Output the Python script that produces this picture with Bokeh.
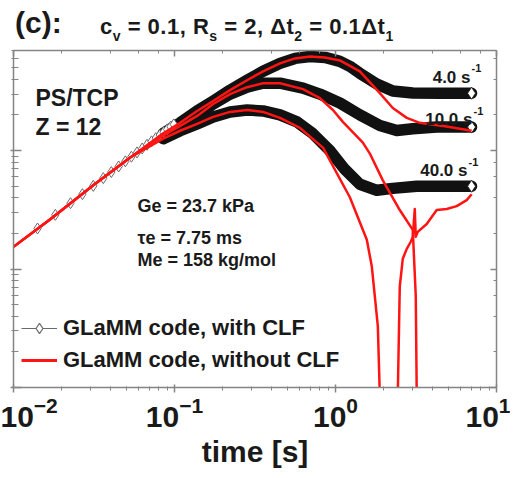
import math
from bokeh.plotting import figure
from bokeh.models import LogAxis, Label, Legend, LegendItem, Range1d, Div
from bokeh.layouts import column
from bokeh.embed import file_html
from bokeh.resources import INLINE

# ---------------- data ----------------
# common early envelope, diamond markers (time [s], value)
env_diamond_t = [0.0141, 0.0182, 0.0226, 0.0268, 0.0313, 0.0361, 0.0405, 0.045, 0.0495, 0.054,
                 0.0585, 0.063, 0.0675, 0.072, 0.0765, 0.081, 0.0855, 0.09, 0.0945, 0.099]
env_diamond_y = [220, 287, 360, 429, 504, 585, 659, 735, 812, 888,
                 965, 1042, 1120, 1197, 1275, 1353, 1431, 1510, 1588, 1666]

# GLaMM with CLF
b4_t = [0.0100, 0.0170, 0.0313, 0.0531, 0.0851, 0.1084, 0.1382, 0.1738, 0.2214, 0.2823, 0.3548, 0.452,
        0.560, 0.694, 0.860, 1.065, 1.228, 1.417, 1.806, 2.269, 3.020, 4.44, 7.0]
b4_y = [154, 265, 510, 874, 1400, 1716, 2161, 2620, 3239, 3928, 4671, 5450,
        6001, 6237, 6118, 5663, 5144, 4495, 3650, 3180, 3060, 3050, 3050]
b10_t = [0.0100, 0.0170, 0.0313, 0.0531, 0.0851, 0.1084, 0.1382, 0.1738, 0.2214, 0.2823, 0.3548, 0.452,
         0.628, 0.800, 1.065, 1.417, 1.885, 2.403, 3.020, 4.253, 7.0]
b10_y = [154, 265, 510, 874, 1340, 1619, 1963, 2474, 2999, 3432, 3707, 3707,
         3367, 2999, 2522, 2001, 1630, 1480, 1530, 1580, 1580]
b40_t = [0.0100, 0.0170, 0.0313, 0.0531, 0.0851, 0.1084, 0.1382, 0.1738, 0.2214, 0.2823, 0.3548, 0.452,
         0.576, 0.724, 0.923, 1.144, 1.417, 1.806, 2.269, 3.196, 7.0]
b40_y = [154, 265, 510, 874, 1260, 1471, 1682, 1925, 2121, 2203, 2161, 2001,
         1748, 1388, 1000, 693, 520, 462, 480, 500, 500]

# GLaMM without CLF
r4_t = [0.0100, 0.0170, 0.0313, 0.0531, 0.0851, 0.1084, 0.1382, 0.1738, 0.2214, 0.2823, 0.3548, 0.452,
        0.560, 0.694, 0.860, 1.065, 1.417, 1.885, 2.269, 2.771, 3.336, 4.905, 7.01]
r4_y = [154, 265, 510, 874, 1400, 1716, 2161, 2620, 3239, 3928, 4671, 5450,
        6001, 6237, 6118, 5774, 4671, 3058, 2289, 1889, 1716, 1600, 1470]
r10_t = [0.0100, 0.0170, 0.0313, 0.0531, 0.0851, 0.1084, 0.1382, 0.1738, 0.2214, 0.2823, 0.3548, 0.452,
         0.628, 0.800, 0.964, 1.111, 1.479, 1.634, 1.968, 2.507, 3.020, 3.152, 3.196]
r10_y = [154, 265, 510, 874, 1340, 1619, 1963, 2474, 2999, 3432, 3707, 3707,
         3302, 2776, 2203, 1748, 1167, 944, 561, 315, 214, 59, 8.6]
r40_t = [0.0100, 0.0170, 0.0313, 0.0531, 0.0851, 0.1084, 0.1382, 0.1738, 0.2214, 0.2823, 0.3548, 0.452,
         0.601, 0.836, 1.228, 1.565, 1.681, 1.832, 1.885]
r40_y = [154, 265, 510, 874, 1260, 1471, 1682, 1925, 2121, 2203, 2121, 1889,
         1557, 1060, 404, 177, 105, 33, 8.6]
r40b_t = [2.437, 2.507, 2.617, 2.771, 2.934, 3.020, 3.107, 3.152, 3.242, 3.686, 4.253, 4.905, 5.658, 6.526, 7.01]
r40b_y = [8.6, 71, 122, 148, 170, 187, 321, 187, 206, 240, 315, 321, 340, 382, 428]

rate_labels = ["4.0 s", "10.0 s", "40.0 s"]

# ---------------- layout helpers ----------------
FONT = "Liberation Sans"
TXT = "#1a1a1a"
AX = "#858585"
X0, X1 = 0.01, 10.0
Y0, Y1 = 10.0, 7000.0
FL, FR, FT, FB = 13, 496, 50, 392   # frame edges in page pixels
HEAD = 46                           # height of the title strip above the figure


def sx(px):
    return 10 ** (math.log10(X0) + (px - FL) / (FR - FL) * (math.log10(X1) - math.log10(X0)))


def sy(py):
    return 10 ** (math.log10(Y0) + (FB - py) / (FB - FT) * (math.log10(Y1) - math.log10(Y0)))


W = 510
p = figure(width=W, height=470 - HEAD, x_axis_type="log", y_axis_type="log",
           x_range=Range1d(X0, X1), y_range=Range1d(Y0, Y1),
           output_backend="svg", toolbar_location=None,
           min_border_left=FL, min_border_right=W - FR, min_border_top=FT - HEAD,
           min_border_bottom=470 - HEAD - (FT - HEAD) - (FB - FT))
p.outline_line_color = None
p.grid.visible = False
p.background_fill_color = "white"
p.border_fill_color = "white"

xa = p.xaxis[0]
xa.axis_label = "time [s]"
xa.axis_label_text_font = FONT
xa.axis_label_text_font_size = "30px"
xa.axis_label_text_font_style = "bold"
xa.axis_label_text_color = TXT
xa.axis_label_standoff = 5
xa.major_label_text_font = FONT
xa.major_label_text_font_size = "30px"
xa.major_label_text_font_style = "bold"
xa.major_label_text_color = TXT
xa.major_label_standoff = 4
xa.major_tick_in, xa.major_tick_out = 3, 5
xa.minor_tick_in, xa.minor_tick_out = 1, 3

ya = p.yaxis[0]
ya.major_label_text_font_size = "1px"
ya.major_label_text_alpha = 0
ya.major_label_standoff = 0
ya.major_tick_in, ya.major_tick_out = 8, 3
ya.minor_tick_in, ya.minor_tick_out = 5, 2

for ax in (xa, ya):
    ax.axis_line_color = AX
    ax.axis_line_width = 1.5
    ax.major_tick_line_color = AX
    ax.minor_tick_line_color = AX
    ax.major_tick_line_width = 1.5

for loc in ("above", "right"):
    ax = LogAxis(major_label_text_font_size="1px", major_label_text_alpha=0, major_label_standoff=0,
                 major_tick_in=6, major_tick_out=0, minor_tick_in=3, minor_tick_out=0,
                 axis_line_color=AX, axis_line_width=1.5,
                 major_tick_line_color=AX, minor_tick_line_color=AX, major_tick_line_width=1.5)
    p.add_layout(ax, loc)

# ---------------- series ----------------
for t, y in ((b4_t, b4_y), (b10_t, b10_y), (b40_t, b40_y)):
    p.line(t[4:], y[4:], line_color="#111111", line_width=11.5, line_join="round", line_cap="round")

p.scatter(env_diamond_t, env_diamond_y, marker="diamond", size=11,
          fill_color="white", line_color="#6a6a6a", line_width=1)
p.scatter([b4_t[-1], b10_t[-1], b40_t[-1]], [b4_y[-1], b10_y[-1], b40_y[-1]], marker="diamond",
          size=12, fill_color="white", line_color="#222222", line_width=1)

RED = "#ff1414"
for t, y in ((r4_t, r4_y), (r10_t, r10_y), (r40_t, r40_y), (r40b_t, r40b_y)):
    p.line(t, y, line_color=RED, line_width=2.5, line_join="round")

# ---------------- legend ----------------
NAN = [math.nan]
lg_line = p.line(NAN, NAN, line_color="#6a6a6a", line_width=1.2)
lg_dia = p.scatter(NAN, NAN, marker="diamond", size=16, fill_color="white", line_color="#6a6a6a", line_width=1.2)
lg_red = p.line(NAN, NAN, line_color=RED, line_width=3)
legend = Legend(items=[LegendItem(label="GLaMM code, with CLF", renderers=[lg_line, lg_dia]),
                       LegendItem(label="GLaMM code, without CLF", renderers=[lg_red])],
                location=(8, 14), orientation="vertical")
legend.background_fill_alpha = 0
legend.border_line_color = None
legend.padding = 0
legend.margin = 0
legend.spacing = 6
legend.glyph_width = 36
legend.glyph_height = 26
legend.label_height = 26
legend.label_standoff = 6
legend.label_text_font = FONT
legend.label_text_font_size = "22px"
legend.label_text_font_style = "bold"
legend.label_text_color = TXT
p.add_layout(legend)


# ---------------- texts ----------------
def txt(text, px, py, size, bold=True, align="left"):
    p.add_layout(Label(x=sx(px), y=sy(py), text=text, text_font=FONT,
                       text_font_size=f"{size}px", text_font_style="bold" if bold else "normal",
                       text_align=align, text_baseline="alphabetic", text_color=TXT))


txt("PS/TCP", 35, 98, 23)
txt("Z = 12", 35, 128, 23)

txt("Ge = 23.7 kPa", 137, 208, 18)
txt("\u03c4e = 7.75 ms", 137, 240, 18)
txt("Me = 158 kg/mol", 137, 263, 18)

for lab, px, py in zip(rate_labels, (470, 472, 467), (77, 120, 172)):
    txt(lab, px, py, 17, align="right")
    txt("-1", px + 1, py - 9, 11)

# ---------------- heading strip ----------------
sub = '<span style="position:relative; top:7px; font-size:14px;">{}</span>'
head_html = (
    f'<div style="position:relative; width:{W}px; height:{HEAD}px; color:{TXT}; '
    f'font-family:\'{FONT}\'; font-weight:bold; white-space:nowrap;">'
    '<span style="position:absolute; left:15px; top:8px; font-size:30px; line-height:30px;">(c):</span>'
    '<span style="position:absolute; left:100px; top:16px; font-size:22px; line-height:22px; letter-spacing:0.5px;">'
    'c' + sub.format('v') + ' = 0.1, R' + sub.format('s') + ' = 2, \u0394t' + sub.format('2')
    + ' = 0.1\u0394t' + sub.format('1') + '</span></div>'
)
head = Div(text=head_html, width=W, height=HEAD, margin=(0, 0, 0, 0))

layout = column(head, p, spacing=0)
open("out.html", "w").write(file_html(layout, INLINE))
